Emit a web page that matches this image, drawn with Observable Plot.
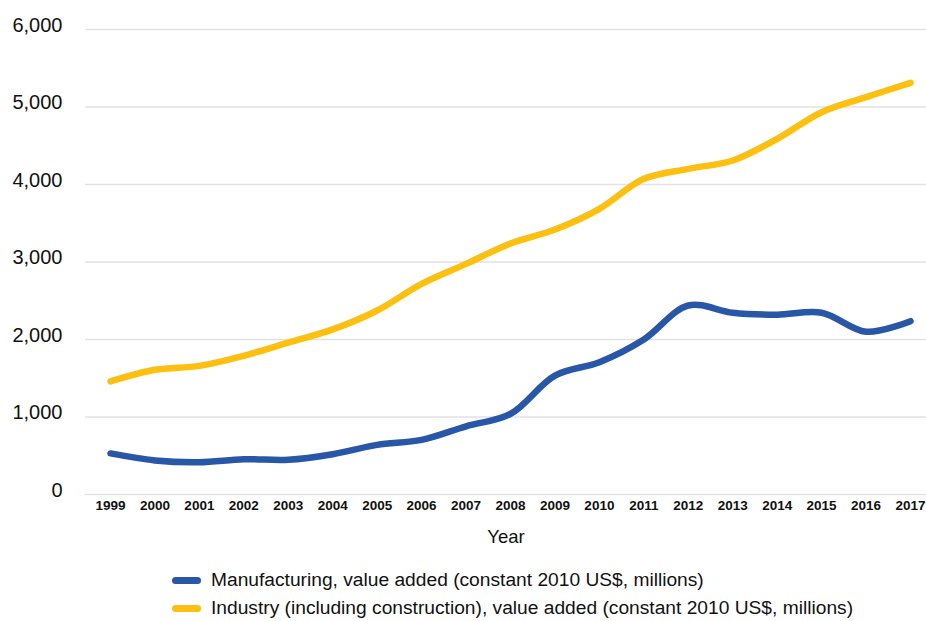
<!DOCTYPE html>
<html>
<head>
<meta charset="utf-8">
<script src="https://cdn.jsdelivr.net/npm/d3@7"></script>
<script src="https://cdn.jsdelivr.net/npm/@observablehq/plot@0.6"></script>
<style>
  html, body { margin: 0; padding: 0; background: #fff; }
  body { width: 926px; height: 621px; overflow: hidden; font-family: "Liberation Sans", Arial, sans-serif; }
  #legend { position: absolute; left: 172px; top: 566px; font-size: 19.2px; color: #111; }
  .item { display: flex; align-items: center; height: 28px; }
  .sw { width: 29px; height: 7px; border-radius: 4px; margin-right: 10px; }
</style>
</head>
<body>
<div id="chart"></div>
<div id="legend"></div>
<script>
const years = [1999,2000,2001,2002,2003,2004,2005,2006,2007,2008,2009,2010,2011,2012,2013,2014,2015,2016,2017];
const manufacturing = [530,440,417,455,448,520,640,705,880,1040,1535,1707,2000,2439,2345,2320,2345,2100,2236];
const industry = [1460,1609,1660,1790,1960,2130,2374,2718,2976,3239,3419,3686,4073,4202,4310,4589,4933,5127,5312];
const yTicks = [0,1000,2000,3000,4000,5000,6000];
const seriesNames = ["Manufacturing, value added (constant 2010 US$, millions)", "Industry (including construction), value added (constant 2010 US$, millions)"];
const seriesColors = ["#2757a6", "#fdc010"];

const data = [];
years.forEach((yr, i) => {
  data.push({year: yr, value: manufacturing[i], series: seriesNames[0]});
  data.push({year: yr, value: industry[i], series: seriesNames[1]});
});

const chart = Plot.plot({
  width: 926,
  height: 555,
  marginLeft: 85,
  marginRight: 0,
  marginTop: 29,
  marginBottom: 61,
  style: {fontFamily: "Liberation Sans, Arial, sans-serif", color: "#111", background: "#fff"},
  x: {domain: [1998.4375, 2017.36], ticks: years, tickFormat: d => String(d), tickSize: 0, tickPadding: 8, label: null},
  y: {domain: [0, 6000], ticks: yTicks, tickFormat: d3.format(","), tickSize: 0, tickPadding: 23, label: null},
  color: {domain: seriesNames, range: seriesColors},
  marks: [
    Plot.ruleY(yTicks, {stroke: "#e2e2e2", strokeWidth: 1.5}),
    Plot.axisY({ticks: yTicks, tickFormat: d3.format(","), tickSize: 0, tickPadding: 23, fontSize: 20, dy: -4, label: null}),
    Plot.axisX({ticks: years, tickFormat: d => String(d), tickSize: 0, tickPadding: 6, fontSize: 13.5, fontWeight: "bold", label: null}),
    Plot.text(["Year"], {frameAnchor: "bottom", dy: 48, fontSize: 18.5, fontWeight: 500, fill: "#111"}),
    Plot.line(data, {x: "year", y: "value", z: "series", stroke: "series", strokeWidth: 6.5, curve: "catmull-rom", strokeLinecap: "round", strokeLinejoin: "round"})
  ]
});
document.getElementById("chart").appendChild(chart);

const legend = document.getElementById("legend");
seriesNames.forEach((name, i) => {
  const row = document.createElement("div");
  row.className = "item";
  const sw = document.createElement("span");
  sw.className = "sw";
  sw.style.background = seriesColors[i];
  const t = document.createElement("span");
  t.textContent = name;
  row.appendChild(sw); row.appendChild(t);
  legend.appendChild(row);
});
</script>
</body>
</html>
